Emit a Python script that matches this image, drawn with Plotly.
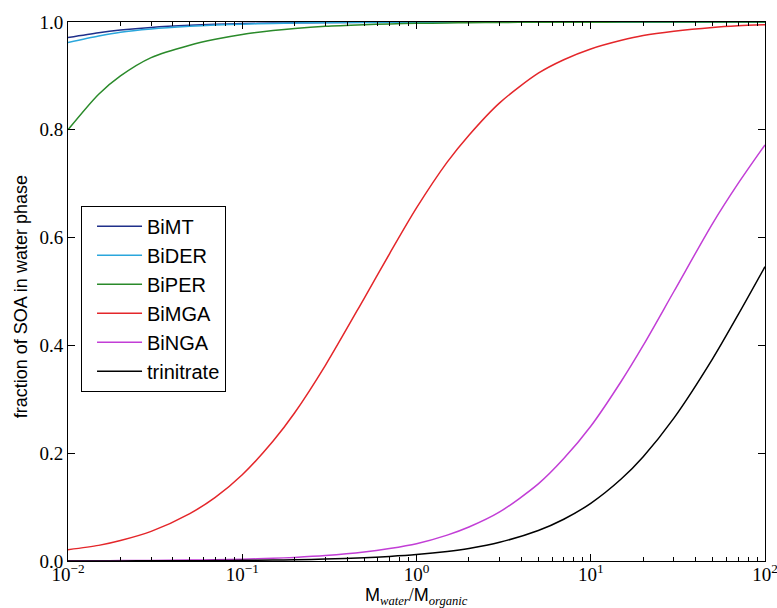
import plotly.graph_objects as go

# Water-to-organic mass ratio (log scale)
ratio = [0.01, 0.015, 0.02, 0.03, 0.05, 0.07, 0.1, 0.15, 0.2, 0.3, 0.5, 0.7,
         1, 1.5, 2, 3, 5, 7, 10, 15, 20, 30, 50, 70, 100]

# Fraction of SOA partitioned into the water phase, per compound
bimt = [0.971, 0.980, 0.985, 0.990, 0.994, 0.9957, 0.997, 0.998, 0.9985, 0.999,
        0.9994, 0.9996, 0.9997, 0.9998, 0.9998, 0.9999, 0.9999, 1.0, 1.0, 1.0,
        1.0, 1.0, 1.0, 1.0, 1.0]
bider = [0.962, 0.974, 0.981, 0.987, 0.992, 0.9944, 0.996, 0.9974, 0.998, 0.9987,
         0.9992, 0.9994, 0.9996, 0.9997, 0.9998, 0.9999, 0.9999, 0.9999, 1.0, 1.0,
         1.0, 1.0, 1.0, 1.0, 1.0]
biper = [0.800, 0.866, 0.900, 0.934, 0.957, 0.968, 0.977, 0.984, 0.988, 0.992,
         0.995, 0.9965, 0.9975, 0.9983, 0.9988, 0.9992, 0.9995, 0.9996, 0.9997,
         0.9998, 0.9998, 0.9999, 0.9999, 1.0, 1.0]
bimga = [0.021, 0.029, 0.038, 0.055, 0.088, 0.118, 0.160, 0.222, 0.275, 0.363,
         0.487, 0.570, 0.655, 0.740, 0.790, 0.850, 0.905, 0.930, 0.950, 0.966,
         0.975, 0.983, 0.990, 0.993, 0.995]
binga = [0.0003, 0.0005, 0.0007, 0.001, 0.0017, 0.0023, 0.0033, 0.005, 0.0067,
         0.010, 0.0165, 0.023, 0.032, 0.048, 0.063, 0.091, 0.143, 0.190, 0.250,
         0.334, 0.400, 0.500, 0.626, 0.700, 0.772]
trinitrate = [0.0001, 0.0002, 0.0002, 0.0004, 0.0006, 0.0008, 0.0012, 0.0018,
              0.0024, 0.0036, 0.006, 0.0084, 0.0119, 0.0177, 0.0234, 0.0347,
              0.0566, 0.0775, 0.107, 0.1525, 0.1935, 0.265, 0.375, 0.4565, 0.546]

series_names = ["BiMT", "BiDER", "BiPER", "BiMGA", "BiNGA", "trinitrate"]
series_values = [bimt, bider, biper, bimga, binga, trinitrate]
series_colors = ["#1f2f8a", "#2aa6dc", "#2a8a2a", "#e4262a", "#c23ed6", "#000000"]

x_tick_vals = [0.01, 0.1, 1, 10, 100]
x_tick_text = ["10<sup>\u22122</sup>", "10<sup>\u22121</sup>", "10<sup>0</sup>",
               "10<sup>1</sup>", "10<sup>2</sup>"]
y_tick_vals = [0.0, 0.2, 0.4, 0.6, 0.8, 1.0]
y_tick_text = ["0.0", "0.2", "0.4", "0.6", "0.8", "1.0"]

fig = go.Figure()
for name, vals, col in zip(series_names, series_values, series_colors):
    fig.add_trace(go.Scatter(
        x=ratio, y=vals, name=name, mode="lines",
        line=dict(color=col, width=1.5, shape="spline", smoothing=0.8),
    ))

serif = "Liberation Serif, Times New Roman, serif"
sans = "Liberation Sans, Arial, sans-serif"

minor_vals = [m * 10 ** e for e in range(-2, 2) for m in range(2, 10)]

fig.update_layout(
    width=777, height=608, autosize=False,
    margin=dict(l=68, r=12, t=22, b=47),
    paper_bgcolor="white", plot_bgcolor="white",
    showlegend=True,
    legend=dict(
        x=0.0187, y=0.659, xanchor="left", yanchor="top",
        bgcolor="white", bordercolor="black", borderwidth=1,
        font=dict(family=sans, size=20, color="black"),
        itemwidth=45, indentation=10,
    ),
    xaxis=dict(
        type="log", range=[-2, 2], automargin=False,
        tickvals=x_tick_vals, ticktext=x_tick_text,
        ticks="inside", ticklen=7, tickwidth=1, tickcolor="black",
        showline=True, linecolor="black", linewidth=1, mirror="allticks",
        showgrid=False, zeroline=False, ticklabeloverflow="allow",
        ticklabelstandoff=-4,
        tickfont=dict(family=serif, size=19, color="black"),
        minor=dict(tickvals=minor_vals, ticks="inside", ticklen=4,
                   tickcolor="black", tickwidth=1, showgrid=False),
    ),
    yaxis=dict(
        range=[0, 1], automargin=False,
        tickvals=y_tick_vals, ticktext=y_tick_text,
        ticks="inside", ticklen=7, tickwidth=1, tickcolor="black",
        showline=True, linecolor="black", linewidth=1, mirror="allticks",
        showgrid=False, zeroline=False, ticklabeloverflow="allow",
        tickfont=dict(family=serif, size=19, color="black"),
    ),
    annotations=[
        dict(text="fraction of SOA in water phase", textangle=-90,
             xref="paper", yref="paper", x=-0.067, y=0.49,
             xanchor="center", yanchor="middle", showarrow=False,
             font=dict(family=sans, size=18, color="black")),
        dict(text=("M<sub><span style='font-family:Liberation Serif;font-style:italic'>water</span></sub>"
                   "<span style='font-family:Liberation Serif'>/</span>"
                   "M<sub><span style='font-family:Liberation Serif;font-style:italic'>organic</span></sub>"),
             xref="paper", yref="paper", x=0.5, y=-0.066,
             xanchor="center", yanchor="middle", showarrow=False,
             font=dict(family=sans, size=18, color="black")),
    ],
)

fig.write_html("out.html")
